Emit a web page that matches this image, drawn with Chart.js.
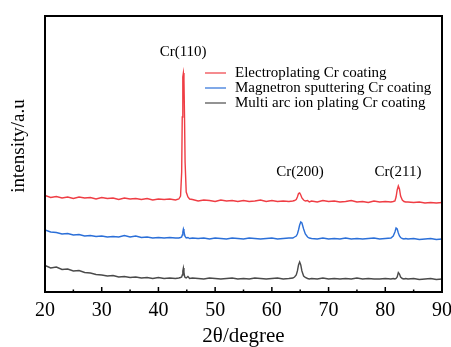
<!DOCTYPE html>
<html>
<head>
<meta charset="utf-8">
<script src="https://cdn.jsdelivr.net/npm/chart.js@4"></script>
<style>
  html, body { margin: 0; background: #fff; }
</style>
</head>
<body>
<canvas id="xrdChart" width="451" height="347"></canvas>
<script>
// 2-theta positions (degrees), finer around the peaks
const angles = [
    20, 21, 22, 23, 24, 25, 26, 27, 28, 29, 30, 31, 32, 33, 34, 35, 36, 37, 38, 39, 40, 41, 42, 43,
    43.6, 43.9, 44.1, 44.2, 44.3, 44.4, 44.5, 44.6, 44.7, 44.9, 45.2, 45.5,
    46, 47, 48, 49, 50, 51, 52, 53, 54, 55, 56, 57, 58, 59, 60, 61, 62, 63,
    63.7, 64.0, 64.3, 64.5, 64.7, 64.9, 65.1, 65.3, 65.6, 65.9, 66.3, 66.6,
    67, 68, 69, 70, 71, 72, 73, 74, 75, 76, 77, 78, 79, 80, 81,
    81.4, 81.7, 81.9, 82.1, 82.3, 82.5, 82.7, 83.0, 83.3, 83.6,
    84, 85, 86, 87, 88, 89, 90
];

// intensities (arbitrary units, curves are stacked)
const electroplating = [
    96.5, 94.5, 95.5, 94, 95, 93.5, 95, 94, 94.5, 93, 94.5, 93.5, 94, 92.5, 94, 93, 93.5, 92.5, 93.5, 92, 93, 92.5, 93, 92,
    93, 96, 120, 175, 215, 219, 212, 175, 130, 100, 95, 93,
    92.5, 91, 92, 91.5, 90.5, 92, 91, 91.5, 90.5, 91.5, 90.5, 91, 92, 90.5, 91.5, 90.5, 91, 90.5,
    91, 91.5, 92.5, 95, 98.5, 99, 97, 94, 92, 91, 91.5, 90,
    91, 90, 91.5, 90.5, 91, 90, 90.5, 91.5, 90, 90.5, 89.5, 91, 90, 90.5, 90,
    90.5, 91, 95, 102, 106, 103, 96, 92, 90.5, 90,
    90, 89.5, 90, 89, 89.5, 89, 89.5
];
const magnetron = [
    62, 60, 59.5, 58, 58.5, 57, 57.5, 56, 56.5, 55.5, 56, 55, 55.5, 55, 56.5, 55, 56, 54.5, 55, 54, 54.5, 54, 54.5, 54,
    54, 54.5, 55, 57, 60, 63, 61, 57.5, 55.5, 54, 54.5, 53.5,
    54, 53.5, 54, 53, 54, 53.5, 53, 54, 53.5, 53, 54, 53.5, 53, 53.5, 54, 53, 53.5, 54,
    54, 55, 56, 58, 62, 67, 70, 69, 63, 58, 55, 54,
    53.5, 53, 54, 53, 53.5, 53, 54, 53, 53.5, 53, 53.5, 54, 53, 53.5, 54,
    56, 60, 64, 63, 59, 56, 54.5, 53.5, 53, 53.5,
    53, 53.5, 52.5, 53, 53.5, 52.5, 53
];
const multiArc = [
    26.5, 24, 25, 22.5, 23, 21, 21.5, 19.5, 19, 17.5, 17, 16, 16.5, 15, 15.5, 14.5, 15, 14, 14.5, 13.5, 14.5, 13.5, 14, 13.5,
    14, 14.5, 15, 17, 21, 24, 20, 16, 14.5, 14, 15.5, 13.5,
    14, 13.5, 13, 14, 13.5, 13, 13.5, 14, 13, 13.5, 13, 14, 13.5, 13, 13.5, 14, 13, 13.5,
    14, 15, 17, 21, 27, 30, 27, 21, 16, 14.5, 13.5, 13,
    13.5, 13, 14, 13, 13.5, 13, 13.5, 13, 14, 13, 13.5, 13, 13, 13.5, 13,
    13.5, 13, 13.5, 15, 19.5, 18, 15, 13.5, 13, 13.5,
    13, 13.5, 12.5, 13, 13.5, 12.5, 13
];

const seriesNames = ['Electroplating Cr coating', 'Magnetron sputtering Cr coating', 'Multi arc ion plating Cr coating'];
const seriesColors = ['#ef3d44', '#2b6fd8', '#4a4a4a'];

// peak labels
const peakLabels = ['Cr(110)', 'Cr(200)', 'Cr(211)'];
const peakAngles = [44.35, 64.95, 82.25];
const peakLabelLevel = [240, 120, 120];

const majorTicks = [20, 30, 40, 50, 60, 70, 80, 90];

const serif = "'Liberation Serif', 'Times New Roman', serif";

function toPoints(values) {
    return values.map((v, i) => ({ x: angles[i], y: v }));
}

const datasets = [electroplating, magnetron, multiArc].map((vals, i) => ({
    label: seriesNames[i],
    data: toPoints(vals),
    borderColor: seriesColors[i],
    borderWidth: 1.4,
    pointRadius: 0,
    tension: 0,
    fill: false
}));

// frame, inward ticks, legend, peak labels and the y title
const decorations = {
    id: 'decorations',
    afterDraw(chart) {
        const ctx = chart.ctx;
        const area = chart.chartArea;
        const xs = chart.scales.x;
        const ys = chart.scales.y;
        ctx.save();

        ctx.strokeStyle = '#000';
        ctx.lineWidth = 1.5;
        xs.ticks.forEach(t => {
            const px = xs.getPixelForValue(t.value);
            const len = majorTicks.includes(t.value) ? 5 : 2.5;
            ctx.beginPath();
            ctx.moveTo(px, area.bottom);
            ctx.lineTo(px, area.bottom - len);
            ctx.stroke();
        });

        ctx.lineWidth = 2;
        ctx.strokeRect(area.left, area.top, area.right - area.left, area.bottom - area.top);

        // legend
        ctx.font = '15px ' + serif;
        ctx.textBaseline = 'middle';
        ctx.textAlign = 'left';
        ctx.fillStyle = '#000';
        seriesNames.forEach((name, i) => {
            const y = area.top + 57 + i * 15;
            ctx.strokeStyle = seriesColors[i];
            ctx.lineWidth = 1.2;
            ctx.beginPath();
            ctx.moveTo(area.left + 160, y);
            ctx.lineTo(area.left + 181, y);
            ctx.stroke();
            ctx.fillText(name, area.left + 190, y);
        });

        // peak labels
        ctx.textAlign = 'center';
        peakLabels.forEach((txt, i) => {
            ctx.fillText(txt, xs.getPixelForValue(peakAngles[i]), ys.getPixelForValue(peakLabelLevel[i]));
        });

        // y title, sits a bit above the plot middle in the original
        ctx.font = '19px ' + serif;
        ctx.translate(19, (area.top + area.bottom) / 2 - 8);
        ctx.rotate(-Math.PI / 2);
        ctx.fillText('intensity/a.u', 0, 0);
        ctx.restore();
    }
};

new Chart(document.getElementById('xrdChart'), {
    type: 'line',
    data: { datasets: datasets },
    options: {
        responsive: false,
        animation: false,
        layout: { padding: { top: 16, right: 0, left: 0, bottom: 0 } },
        plugins: {
            legend: { display: false },
            tooltip: { enabled: false }
        },
        scales: {
            x: {
                type: 'linear',
                min: 20,
                max: 90,
                grid: { display: false, drawTicks: false },
                border: { display: false },
                ticks: {
                    stepSize: 5,
                    autoSkip: false,
                    maxRotation: 0,
                    padding: 7,
                    color: '#000',
                    font: { family: serif, size: 20 },
                    callback: v => (v % 10 === 0 ? v : '')
                },
                title: {
                    display: true,
                    text: '2θ/degree',
                    color: '#000',
                    font: { family: serif, size: 21, lineHeight: 1 },
                    padding: { top: 0, bottom: 0 }
                },
                afterFit(scale) {
                    scale.height = 55;
                    scale.paddingLeft = 0;
                    scale.paddingRight = 9;
                }
            },
            y: {
                min: 0,
                max: 276,
                grid: { display: false, drawTicks: false },
                border: { display: false },
                ticks: { display: false },
                title: { display: false },
                afterFit(scale) { scale.width = 45; }
            }
        }
    },
    plugins: [decorations]
});
</script>
</body>
</html>
